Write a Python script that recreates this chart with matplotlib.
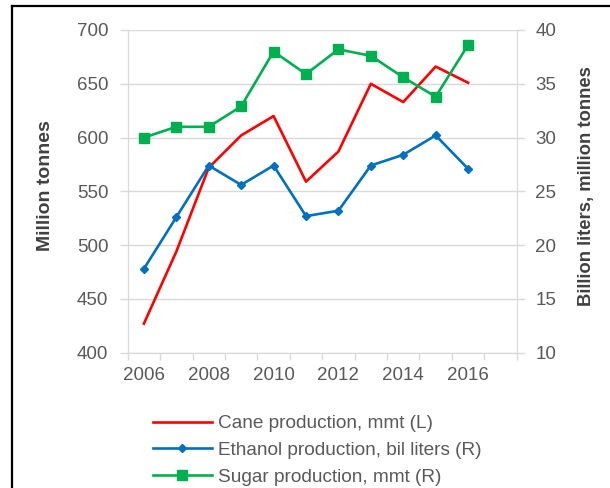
import matplotlib
matplotlib.use('Agg')
import matplotlib.pyplot as plt
from matplotlib.lines import Line2D
import numpy as np

plt.rcParams['font.family'] = ['Liberation Sans', 'DejaVu Sans']

years = [2006, 2007, 2008, 2009, 2010, 2011, 2012, 2013, 2014, 2015, 2016]
cane = [427, 494, 572, 602, 620, 559, 587, 650, 633, 666, 651]
ethanol = [17.8, 22.6, 27.4, 25.6, 27.4, 22.7, 23.2, 27.4, 28.4, 30.2, 27.1]
sugar = [30.0, 31.0, 31.0, 32.9, 38.0, 35.9, 38.2, 37.6, 35.6, 33.8, 38.6]
year_labels = [2006, 2008, 2010, 2012, 2014, 2016]

grey = '#595959'
grid = '#d9d9d9'
fs = 13.5

W, H = 610, 488
fig = plt.figure(figsize=(W / 100, H / 100), dpi=100)
ax = fig.add_axes([127.7 / W, 1 - 352.7 / H, 389 / W, 322.7 / H])
ax2 = ax.twinx()

ax.plot(years, cane, color='#ff0000', lw=1.9, label='Cane production, mmt (L)')
ax2.plot(years, ethanol, color='#0070c0', lw=1.9, marker='D', ms=4,
         label='Ethanol production, bil liters (R)')
ax2.plot(years, sugar, color='#00b050', lw=1.9, marker='s', ms=6.5,
         label='Sugar production, mmt (R)')

ax.set_xlim(2005.5, 2017.5)
ax.set_ylim(400, 700)
ax2.set_ylim(10, 40)
ax.set_yticks(np.arange(400, 701, 50))
ax2.set_yticks(np.arange(10, 41, 5))
ax.set_xticks(year_labels)
ax.set_xticks(np.arange(2005.5, 2018, 1), minor=True)
ax.tick_params(axis='x', which='major', length=0, pad=10, labelsize=fs, labelcolor=grey)
ax.tick_params(axis='x', which='minor', length=5, width=1, color=grid)
ax.tick_params(axis='y', length=6, width=1, color=grid, pad=8, labelsize=fs, labelcolor=grey)
ax2.tick_params(axis='y', length=6, width=1, color=grid, pad=7.5, labelsize=fs, labelcolor=grey)

ax.grid(axis='y', color=grid, lw=1)
ax.set_axisbelow(True)
for a in (ax, ax2):
    for s in a.spines.values():
        s.set_color(grid)
    a.spines['top'].set_visible(False)

fig.text(45 / W, 1 - 186 / H, 'Million tonnes', rotation=90, ha='center', va='center',
         fontsize=14, fontweight='bold', color='#404040')
fig.text(586 / W, 1 - 186 / H, 'Billion liters, million tonnes', rotation=90,
         ha='center', va='center', fontsize=13.3, fontweight='bold', color='#404040')

h1, l1 = ax.get_legend_handles_labels()
h2, l2 = ax2.get_legend_handles_labels()
fig.legend(h1 + h2, l1 + l2, loc='upper left', bbox_to_anchor=(153 / W, 1 - 415 / H),
           frameon=False, fontsize=13.7, labelcolor=grey, handlelength=3.1,
           handletextpad=0.32, labelspacing=0.5, borderpad=0, borderaxespad=0)

# black frame (left and top edges)
fig.add_artist(Line2D([12 / W, 12 / W], [0, 1 - 6 / H], color='black', lw=1.6))
fig.add_artist(Line2D([12 / W, 1], [1 - 6 / H, 1 - 6 / H], color='black', lw=1.6))

fig.savefig('out.png', dpi=100)
